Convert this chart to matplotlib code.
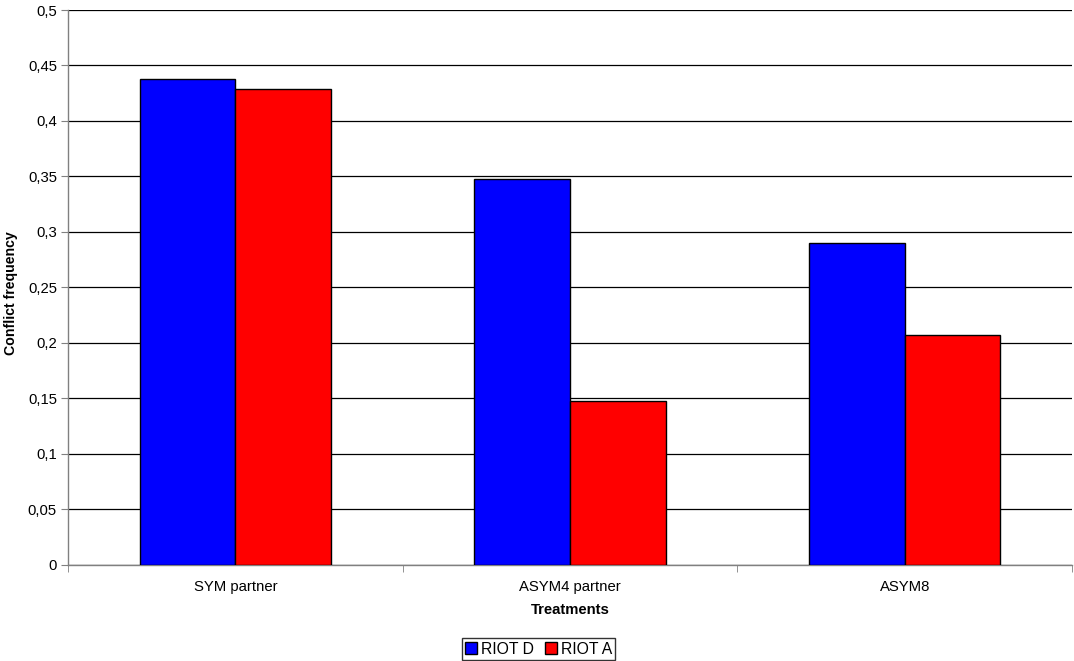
import matplotlib
matplotlib.use("Agg")
import matplotlib.pyplot as plt
from matplotlib.ticker import FixedLocator, FuncFormatter
import numpy as np

plt.rcParams['font.family'] = ['Liberation Sans', 'DejaVu Sans']

categories = ["SYM partner", "ASYM4 partner", "ASYM8"]
riot_d = [0.4374, 0.348, 0.290]
riot_a = [0.4286, 0.1477, 0.2072]
series_names = ["RIOT D", "RIOT A"]
y_ticks = [0, 0.05, 0.1, 0.15, 0.2, 0.25, 0.3, 0.35, 0.4, 0.45, 0.5]

FS = 10.7

fig = plt.figure(figsize=(10.74, 6.61), dpi=100)
ax = fig.add_axes([68 / 1074, 96.5 / 661, 1004 / 1074, 554.5 / 661])

x = np.arange(len(categories))
w = 1 / 3.5
b1 = ax.bar(x - w / 2, riot_d, width=w, color="#0000ff", edgecolor="black",
            linewidth=1.0, label=series_names[0], zorder=3)
b2 = ax.bar(x + w / 2, riot_a, width=w, color="#ff0000", edgecolor="black",
            linewidth=1.0, label=series_names[1], zorder=3)

ax.set_xlim(-0.5, len(categories) - 0.5)
ax.set_ylim(0, 0.5)
ax.yaxis.set_major_locator(FixedLocator(y_ticks))
ax.yaxis.set_major_formatter(FuncFormatter(lambda v, p: f"{v:g}".replace(".", ",")))
ax.grid(axis="y", color="black", linewidth=0.9, zorder=0)

# category labels centred, ticks at the category boundaries
ax.set_xticks(x)
ax.set_xticklabels(categories, fontsize=FS)
ax.tick_params(axis="x", length=0, pad=11)
ax.set_xticks(np.arange(len(categories) + 1) - 0.5, minor=True)
ax.tick_params(axis="x", which="minor", length=5, color="#808080", direction="out")
ax.tick_params(axis="y", length=5, color="#808080", direction="out", labelsize=FS, pad=3)

for side in ["top", "right"]:
    ax.spines[side].set_visible(False)
for side in ["left", "bottom"]:
    ax.spines[side].set_color("#808080")
    ax.spines[side].set_linewidth(1.0)

ax.set_ylabel("Conflict frequency", fontsize=10.2, fontweight="bold",
              va="center", ha="center")
ax.yaxis.set_label_coords(11 / 1074, 1 - 293 / 661, transform=fig.transFigure)
ax.set_xlabel("Treatments", fontsize=FS, fontweight="bold", labelpad=7)

leg = fig.legend(handles=[b1, b2], labels=series_names, loc="center",
                 bbox_to_anchor=(538.5 / 1074, 1 - 649 / 661), ncol=2, fontsize=FS + 0.6,
                 frameon=True, fancybox=False, handlelength=0.75, handleheight=0.75,
                 handletextpad=0.25, columnspacing=0.7, borderpad=0.2,
                 borderaxespad=0)
leg.get_frame().set_edgecolor("black")
leg.get_frame().set_linewidth(1.0)

fig.savefig("out.png", dpi=100)
